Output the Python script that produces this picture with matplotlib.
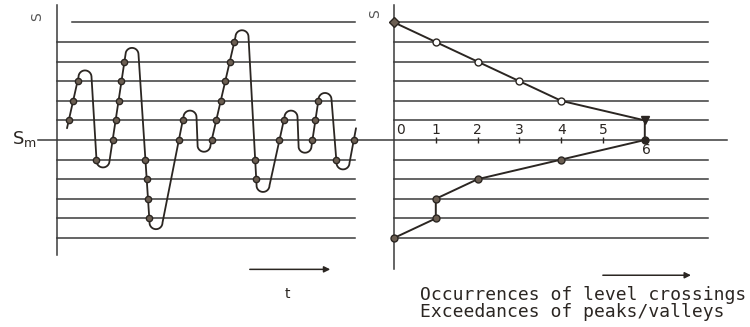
import matplotlib
matplotlib.use("Agg")
import matplotlib.pyplot as plt
import matplotlib.transforms as mtransforms
import numpy as np

plt.rcParams['font.family'] = ['DejaVu Sans']
plt.rcParams['mathtext.default'] = 'regular'

# stress levels relative to the mean S_m (0)
levels = [6, 5, 4, 3, 2, 1, -1, -2, -3, -4, -5]

# turning points of the stress-time signal (time, level)
sig_t = [10, 28, 46, 75, 99, 133, 147, 185, 206, 234, 248, 268, 286, 299]
sig_s = [0.6, 3.55, -1.4, 4.7, -4.55, 1.5, -0.6, 5.6, -2.65, 1.5, -0.65, 2.4, -1.5, 0.6]

# counts per level (right panel)
cnt_levels = [6, 5, 4, 3, 2, 1, 0, -1, -2, -3, -4, -5]
cnt_values = [0, 1, 2, 3, 4, 6, 6, 4, 2, 1, 1, 0]
count_ticks = [0, 1, 2, 3, 4, 5, 6]

ink = '#2b2622'
line_c = '#3a3a3a'
W, H = 750, 327
px_per_level = 19.6
y0_px = 140
ylim = ((y0_px - H) / px_per_level, y0_px / px_per_level)

fig = plt.figure(figsize=(7.5, 3.27), dpi=100)
axL = fig.add_axes([0, 0, 1, 1])
axR = fig.add_axes([0, 0, 1, 1])
for ax in (axL, axR):
    ax.set_ylim(*ylim)
    ax.axis('off')
    ax.patch.set_alpha(0)
# left: 1 time unit per pixel, t=0 at x=57 px
axL.set_xlim(-57, W - 57)
# right: count 0 at x=394 px, 41.8 px per count
cpx = 41.8
axR.set_xlim(-394 / cpx, (W - 394) / cpx)

# ---- left panel: level lines and axis
for lv in levels:
    start = 15 if lv == 6 else 0
    axL.plot([start, 298], [lv, lv], color=line_c, lw=1.1)
axL.plot([0, 0], [6.9, -5.87], color=line_c, lw=1.1)

# S_m line across both panels
tr = mtransforms.blended_transform_factory(fig.transFigure, axL.transData)
axL.plot([38 / W, 727 / W], [0, 0], color=line_c, lw=1.1, transform=tr, clip_on=False)

# signal with rounded peaks / valleys
r_t, r_l = 6.5, 6.5 / px_per_level
px_list, py_list = [sig_t[0]], [sig_s[0]]
for i in range(1, len(sig_t) - 1):
    d = 1 if sig_s[i] > sig_s[i - 1] else -1
    th = np.linspace(np.pi, 0, 30)
    px_list.extend(sig_t[i] + r_t * np.cos(th))
    py_list.extend(sig_s[i] - d * r_l + d * r_l * np.sin(th))
px_list.append(sig_t[-1])
py_list.append(sig_s[-1])
px_arr, py_arr = np.array(px_list), np.array(py_list)
axL.plot(px_arr, py_arr, color=ink, lw=1.3, solid_capstyle='round')

# crossing markers: upward at levels >= S_m, downward below S_m
mx, my = [], []
for lv in [0] + levels:
    for k in range(len(px_arr) - 1):
        a, b = py_arr[k], py_arr[k + 1]
        up = a < lv <= b
        down = a > lv >= b
        if (lv >= 0 and up) or (lv < 0 and down):
            f = (lv - a) / (b - a)
            mx.append(px_arr[k] + f * (px_arr[k + 1] - px_arr[k]))
            my.append(lv)
axL.plot(mx, my, 'o', ms=4.5, mfc='#6b5e52', mec=ink, mew=1.0)

axL.text(-20, 6.3, 'S', rotation=90, fontsize=10, color='#555', ha='center', va='center')
axL.text(-33, 0.05, '$S_m$', fontsize=13, color=ink, ha='center', va='center')

# time arrow
axL.annotate('', xy=(276, -6.6), xytext=(190, -6.6),
             arrowprops=dict(arrowstyle='-|>', color=ink, lw=1.1, mutation_scale=9))
axL.text(230, -7.85, 't', fontsize=10, color=ink, ha='center', va='center')

# ---- right panel
for lv in levels:
    axR.plot([0, 7.5], [lv, lv], color=line_c, lw=1.1)
axR.plot([0, 0], [6.9, -6.6], color=line_c, lw=1.1)

axR.plot(cnt_values, cnt_levels, color=ink, lw=1.4)
up_idx = [i for i, lv in enumerate(cnt_levels) if 2 <= lv <= 5]
lo_idx = [i for i, lv in enumerate(cnt_levels) if lv < 0]
axR.plot([cnt_values[i] for i in up_idx], [cnt_levels[i] for i in up_idx], 'o',
         ms=5, mfc='white', mec=ink, mew=1.0)
axR.plot([cnt_values[i] for i in lo_idx], [cnt_levels[i] for i in lo_idx], 'o',
         ms=5, mfc='#6b5e52', mec=ink, mew=1.0)
axR.plot(cnt_values[0], cnt_levels[0], 'D', ms=5, mfc='#6b5e52', mec=ink)
axR.plot(cnt_values[5], cnt_levels[5], 'v', ms=6, mfc=ink, mec=ink)
axR.plot(cnt_values[6], cnt_levels[6], 'o', ms=5, mfc=ink, mec=ink)

axR.plot(count_ticks[1:6], [0] * 5, '|', ms=5, color=ink, mew=1.0)
for c in count_ticks:
    if c == 6:
        axR.text(c + 0.05, -0.5, str(c), fontsize=10, color=ink, ha='center', va='center')
    else:
        axR.text(c + (0.15 if c == 0 else 0), 0.5, str(c), fontsize=10, color=ink,
                 ha='center', va='center')

axR.text(-0.45, 6.45, 'S', rotation=90, fontsize=10, color='#555', ha='center', va='center')

axR.annotate('', xy=(7.17, -6.9), xytext=(4.93, -6.9),
             arrowprops=dict(arrowstyle='-|>', color=ink, lw=1.1, mutation_scale=9))
axR.text(0.62, -7.9, 'Occurrences of level crossings', fontsize=13, color=ink,
         family='DejaVu Sans Mono', ha='left', va='center')
axR.text(0.62, -8.78, 'Exceedances of peaks/valleys', fontsize=13, color=ink,
         family='DejaVu Sans Mono', ha='left', va='center')

fig.savefig('out.png', dpi=100, facecolor='white')
